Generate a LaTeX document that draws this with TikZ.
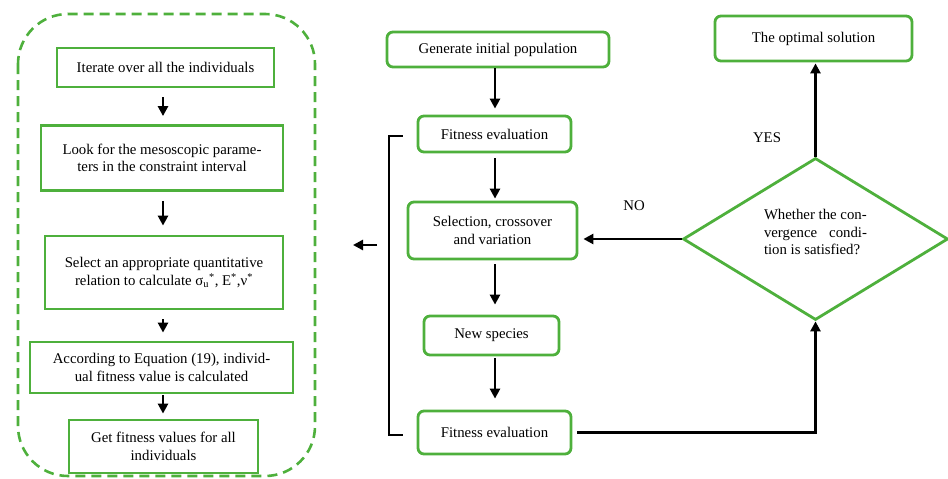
\documentclass[tikz,border=0pt]{standalone}
\usepackage{fontspec}
\setmainfont{Liberation Serif}
\usetikzlibrary{shapes.geometric,arrows.meta}
\definecolor{gr}{RGB}{78,176,60}
\begin{document}
\begin{tikzpicture}[x=1pt,y=-1pt,
  txt/.style={font=\fontsize{14.8}{17.7}\selectfont},
  sq/.style={txt, draw=gr, line width=2.8pt, align=center, inner sep=0pt},
  rd/.style={sq, rounded corners=6pt},
  arr/.style={line width=2.5pt, -{Triangle[length=10pt,width=10pt]}},
  ln/.style={line width=2.5pt}]
\useasboundingbox (0,0) rectangle (948,479);
% dashed frame
\draw[gr, line width=2.6pt, dash pattern=on 10pt off 6pt, rounded corners=50pt] (18,14) rectangle (315,476);
% left column
\node[sq, minimum width=217pt, minimum height=39pt] (b1) at (165.5,67.5) {Iterate over all the individuals};
\node[sq, minimum width=242pt, minimum height=65pt] (b2) at (162,158) {Look for the mesoscopic parame-\\ters in the constraint interval};
\node[sq, minimum width=238pt, minimum height=73pt] (b3) at (164,272.5) {Select an appropriate quantitative\\relation to calculate σ\textsubscript{u}\textsuperscript{*}, E\textsuperscript{*},ν\textsuperscript{*}};
\node[sq, minimum width=263pt, minimum height=51pt] (b4) at (161.5,367.5) {According to Equation (19), individ-\\ual fitness value is calculated};
\node[sq, minimum width=189pt, minimum height=53pt] (b5) at (163.5,446.5) {Get fitness values for all\\individuals};
\coordinate (ax) at (163,0);
\draw[arr, shorten <=9pt, shorten >=8pt] (b1.south -| ax) -- (b2.north -| ax);
\draw[arr, shorten <=9pt, shorten >=9pt] (b2.south -| ax) -- (b3.north -| ax);
\draw[arr, shorten <=9pt, shorten >=8pt] (b3.south -| ax) -- (b4.north -| ax);
\draw[arr, shorten <=1pt, shorten >=5pt] (b4.south -| ax) -- (b5.north -| ax);
% middle column
\node[rd, minimum width=222pt, minimum height=35pt] (g) at (498,49.5) {Generate initial population};
\node[rd, minimum width=153pt, minimum height=36pt] (f1) at (494.5,134) {Fitness evaluation};
\node[rd, minimum width=169pt, minimum height=57pt] (s) at (492.5,230.5) {Selection, crossover\\and variation};
\node[rd, minimum width=135pt, minimum height=39pt] (n) at (491.5,335.5) {New species};
\node[rd, minimum width=153pt, minimum height=43pt] (f2) at (494.5,432.5) {Fitness evaluation};
\coordinate (mx) at (495,0);
\draw[arr, shorten >=6pt] (g.south -| mx) -- (f1.north -| mx);
\draw[arr, shorten <=5pt, shorten >=2pt] (f1.south -| mx) -- (s.north -| mx);
\draw[arr, shorten <=4pt, shorten >=10pt] (s.south -| mx) -- (n.north -| mx);
\draw[arr, shorten <=2pt, shorten >=11pt] (n.south -| mx) -- (f2.north -| mx);
% bracket
\coordinate (bx) at (389,0);
\coordinate (bt) at ([xshift=-14pt,yshift=-2pt]f1.west);
\coordinate (bb) at ([xshift=-14pt,yshift=-2.5pt]f2.west);
\draw[ln] (bt) -- (bt -| bx) -- (bb -| bx) -- (bb);
\coordinate (la1) at (377,245);
\coordinate (la2) at (353,245);
\draw[arr] (la1) -- (la2);
% right side
\node[rd, minimum width=197pt, minimum height=45pt] (o) at (813.5,38.5) {The optimal solution};
\node[diamond, draw=gr, line width=2.8pt, minimum width=265pt, minimum height=162pt, inner sep=0pt] (d) at (815.5,239) {};
\node[txt, align=left, inner sep=0pt] (dt) at (815.5,232) {Whether the con-\\\makebox[103pt][s]{vergence condi-}\\tion is satisfied?};
\draw[arr, shorten >=1pt] (d.north) -- (d.north |- o.south);
\draw[arr, shorten >=5pt] (d.west) -- (d.west -| s.east);
\draw[arr, shorten <=5pt] (f2.east) -- (f2.east -| d.south) -- (d.south);
\node[txt] (yes) at (767,138) {YES};
\node[txt] (no) at (634,206) {NO};
\end{tikzpicture}
\end{document}
